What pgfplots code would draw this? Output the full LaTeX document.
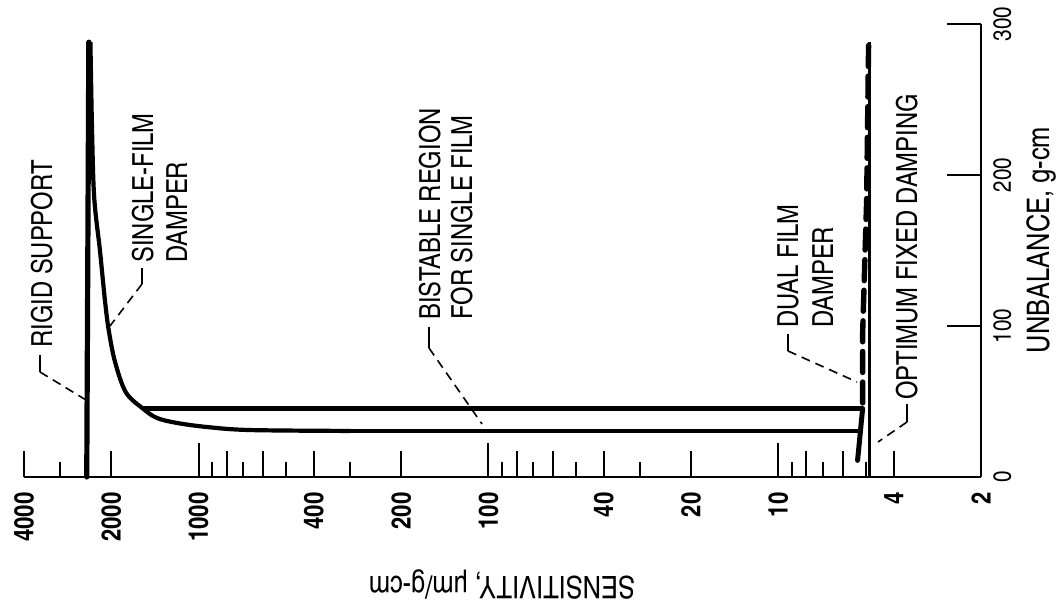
\documentclass[border=0pt]{standalone}
\usepackage{fontspec}
\setmainfont{texgyreheroscn}[Extension=.otf, UprightFont=*-regular, BoldFont=*-bold, ItalicFont=*-italic, BoldItalicFont=*-bolditalic]
\usepackage{pgfplots}
\pgfplotsset{compat=1.18}
\newcommand{\annfont}{\fontsize{14.5}{17}\selectfont}
\newcommand{\axfont}{\fontsize{15.5}{18}\selectfont}
\begin{document}
\begin{tikzpicture}
\begin{axis}[
  name=ax,
  scale only axis, width=478.5pt, height=226.5pt,
  xmode=log, x dir=reverse,
  xmin=2, xmax=4000, ymin=0, ymax=300,
  axis x line=bottom, axis y line=right,
  axis line style={line width=1.2pt, -},
  tick align=inside,
  tick style={line width=1pt, black},
  major tick length=17pt, minor tick length=7.5pt,
  xtick={1000,100,10},
  xticklabels={1000,100,10},
  extra x ticks={4000,2000,800,600,400,200,80,60,40,20,8,6,4,2},
  extra x tick labels={4000,2000,,,400,200,,,40,20,,,4,2},
  extra x tick style={major tick length=13pt},
  minor xtick={3000,900,700,500,300,90,70,50,30,9,7,5},
  ytick={0,100,200,300},
  yticklabels={0,100,200,300},
  xticklabel style={rotate=90, anchor=east, inner sep=0pt, font=\fontsize{13.5}{13.5}\selectfont\bfseries},
  yticklabel style={rotate=90, anchor=north, inner sep=0pt, font=\fontsize{12.5}{12.5}\selectfont},
  xticklabel shift=7.5pt, yticklabel shift=6pt,
  clip=false,
]
% rigid support
\addplot[line width=2.6pt, line cap=round] coordinates {(2430,0) (2390,288)};
% single-film damper, upper curve and lower branch
\addplot[line width=2.1pt, smooth, tension=0.55] coordinates {(2360,288) (2330,230) (2290,185) (2188,150) (2103,117) (2040,97) (1940,76) (1780,56) (1555,45.3) (1392,39.1) (1187,35.8) (935,33.1) (665,31.1) (300,30.5)};
\addplot[line width=2.1pt] coordinates {(300,30.5) (5.33,30.5)};
\addplot[line width=2.1pt] coordinates {(1555,45.3) (5.12,45.3)};
\addplot[line width=2.5pt, line cap=round] coordinates {(5.33,11) (5.12,45.3)};
% optimum fixed damping
\addplot[line width=1.3pt] coordinates {(4.84,0) (4.84,288)};
% dual film damper
\addplot[line width=2.7pt, line cap=round, dash pattern=on 10.5pt off 4.8pt] coordinates {(5.12,49) (5.12,95) (4.96,183) (4.88,291)};
\end{axis}
\begin{scope}[shift={(ax.south west)}, xshift=-12pt, yshift=238.5pt, x=0.5pt, y=-0.5pt]
  \pgfresetboundingbox
  \path[use as bounding box] (0,0) rectangle (1058,604);
  \tikzset{lead/.style={line width=0.8pt}, leadd/.style={line width=0.8pt, dash pattern=on 4.5pt off 3pt}}
  \node[rotate=90, anchor=base west, inner sep=0pt, font=\annfont] at (52,348) {RIGID SUPPORT};
  \draw[lead] (40,355) -- (40,372);
  \draw[leadd] (40,372) -- (86,400);
  \node[rotate=90, anchor=base west, inner sep=0pt, font=\annfont] at (153,263) {SINGLE-FILM};
  \node[rotate=90, anchor=base west, inner sep=0pt, font=\annfont] at (187,263) {DAMPER};
  \draw[lead] (142,268) -- (142,284);
  \draw[leadd] (142,284) -- (110,326);
  \node[rotate=90, anchor=base west, inner sep=0pt, font=\annfont] at (440,320) {BISTABLE REGION};
  \node[rotate=90, anchor=base west, inner sep=0pt, font=\annfont] at (472,320) {FOR SINGLE FILM};
  \draw[lead] (429,327) -- (429,348);
  \draw[leadd] (429,348) -- (482,424);
  \node[rotate=90, anchor=base west, inner sep=0pt, font=\annfont] at (798,328) {DUAL FILM};
  \node[rotate=90, anchor=base west, inner sep=0pt, font=\annfont] at (833,328) {DAMPER};
  \draw[lead] (788,334) -- (788,351);
  \draw[leadd] (788,351) -- (857,382);
  \node[rotate=90, anchor=base west, inner sep=0pt, font=\annfont] at (917,400) {OPTIMUM FIXED DAMPING};
  \draw[lead] (907,404) -- (907,422);
  \draw[leadd] (907,422) -- (878,442);
  \node[rotate=180, font=\axfont] at (502,585) {SENSITIVITY, µm/g-cm};
  \node[rotate=90, font=\axfont] at (1041,240) {UNBALANCE, g-cm};
\end{scope}
\end{tikzpicture}
\end{document}
